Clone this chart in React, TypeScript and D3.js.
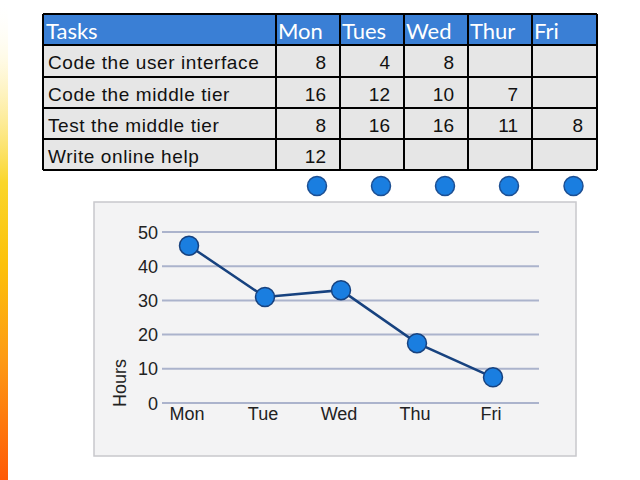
import React from "react";
import * as d3 from "d3";

const tableDays = ["Mon", "Tues", "Wed", "Thur", "Fri"];
const tasks = [
  "Code the user interface",
  "Code the middle tier",
  "Test the middle tier",
  "Write online help",
];
const taskHours: (number | null)[][] = [
  [8, 4, 8, null, null],
  [16, 12, 10, 7, null],
  [8, 16, 16, 11, 8],
  [12, null, null, null, null],
];
const chartDays = ["Mon", "Tue", "Wed", "Thu", "Fri"];
const totalHours = [46, 31, 33, 17.5, 7.5];
const yTicks = [0, 10, 20, 30, 40, 50];

const W = 640;
const H = 480;

// table layout
const tLeft = 43;
const tTop = 14;
const dayColEdges = [276, 340, 404, 468, 532, 597];
const headerH = 31;
const rowEdges = [45, 77, 108, 139, 170];

// chart layout
const panel = { x: 94, y: 202, w: 482, h: 254 };
const gridX0 = 162;
const gridX1 = 539;

const bodyFont = "'Liberation Sans', Arial, sans-serif";
const headFont = "Lato, 'Open Sans', sans-serif";

export default function App() {
  const y = d3.scaleLinear().domain([0, 50]).range([403, 232]);
  const x = d3.scalePoint<string>().domain(chartDays).range([189, 493]);
  const line = d3
    .line<number>()
    .x((_, i) => x(chartDays[i]) as number)
    .y((d) => y(d));

  const colCenters = tableDays.map((_, i) => (dayColEdges[i] + dayColEdges[i + 1]) / 2);

  return (
    <div style={{ position: "absolute", left: 0, top: 0 }}>
      <svg width={W} height={H} style={{ display: "block" }}>
        <defs>
          <linearGradient id="strip" x1="0" y1="0" x2="0" y2="1">
            <stop offset="0" stopColor="#ffffff" stopOpacity="0" />
            <stop offset="0.12" stopColor="#fff8d8" stopOpacity="0.6" />
            <stop offset="0.38" stopColor="#fad62a" />
            <stop offset="0.55" stopColor="#fcc10a" />
            <stop offset="0.75" stopColor="#fd9a14" />
            <stop offset="1" stopColor="#ff5a06" />
          </linearGradient>
        </defs>
        <rect x={0} y={0} width={W} height={H} fill="#ffffff" />
        <rect x={0} y={0} width={8} height={H} fill="url(#strip)" />

        {/* Table */}
        <g>
          <rect
            x={tLeft}
            y={tTop}
            width={dayColEdges[5] - tLeft}
            height={headerH}
            fill="#3a7fd5"
          />
          <rect
            x={tLeft}
            y={rowEdges[0]}
            width={dayColEdges[5] - tLeft}
            height={rowEdges[4] - rowEdges[0]}
            fill="#e6e6e6"
          />
          <text x={tLeft + 3} y={tTop + 25} fill="#ffffff" fontFamily={headFont} fontSize={22}>
            Tasks
          </text>
          {tableDays.map((d, i) => (
            <text
              key={d}
              x={dayColEdges[i] + 2}
              y={tTop + 25}
              fill="#ffffff"
              fontFamily={headFont}
              fontSize={22}
            >
              {d}
            </text>
          ))}
          {tasks.map((t, r) => (
            <g key={t}>
              <text
                x={tLeft + 5}
                y={rowEdges[r] + 23.5}
                fill="#111"
                fontFamily={bodyFont}
                fontSize={19}
                letterSpacing={0.6}
              >
                {t}
              </text>
              {taskHours[r].map((v, c) =>
                v === null ? null : (
                  <text
                    key={c}
                    x={dayColEdges[c + 1] - 14}
                    y={rowEdges[r] + 23.5}
                    textAnchor="end"
                    fill="#111"
                    fontFamily={bodyFont}
                    fontSize={19}
                  >
                    {v}
                  </text>
                )
              )}
            </g>
          ))}
          {[tTop, ...rowEdges].map((yy, i) => (
            <line
              key={"h" + i}
              x1={tLeft}
              x2={dayColEdges[5]}
              y1={yy}
              y2={yy}
              stroke="#000"
              strokeWidth={2}
            />
          ))}
          {[tLeft, ...dayColEdges].map((xx, i) => (
            <line
              key={"v" + i}
              x1={xx}
              x2={xx}
              y1={tTop}
              y2={rowEdges[4]}
              stroke="#000"
              strokeWidth={2}
            />
          ))}
        </g>

        {/* circles under table */}
        {colCenters.map((cx, i) => (
          <circle
            key={i}
            cx={cx + 9}
            cy={186}
            r={9.5}
            fill="#1a7ee0"
            stroke="#1c4f93"
            strokeWidth={1.5}
          />
        ))}

        {/* Chart panel */}
        <rect
          x={panel.x}
          y={panel.y}
          width={panel.w}
          height={panel.h}
          fill="#f3f3f4"
          stroke="#c8c8cc"
          strokeWidth={1.5}
        />
        {yTicks.map((t) => (
          <g key={t}>
            <line
              x1={gridX0}
              x2={gridX1}
              y1={y(t)}
              y2={y(t)}
              stroke="#abb3cc"
              strokeWidth={2}
            />
            <text
              x={158}
              y={y(t) + 6.5}
              textAnchor="end"
              fill="#222"
              fontFamily={bodyFont}
              fontSize={18}
            >
              {t}
            </text>
          </g>
        ))}
        <text
          transform="translate(126,383) rotate(-90)"
          textAnchor="middle"
          fill="#222"
          fontFamily={bodyFont}
          fontSize={18}
        >
          Hours
        </text>
        {chartDays.map((d) => (
          <text
            key={d}
            x={(x(d) as number) - 2}
            y={420}
            textAnchor="middle"
            fill="#222"
            fontFamily={bodyFont}
            fontSize={18}
          >
            {d}
          </text>
        ))}
        <path d={line(totalHours) || ""} fill="none" stroke="#17427f" strokeWidth={2.5} />
        {totalHours.map((v, i) => (
          <circle
            key={i}
            cx={x(chartDays[i])}
            cy={y(v)}
            r={9.5}
            fill="#1a7ee0"
            stroke="#17427f"
            strokeWidth={1.5}
          />
        ))}
      </svg>
    </div>
  );
}
